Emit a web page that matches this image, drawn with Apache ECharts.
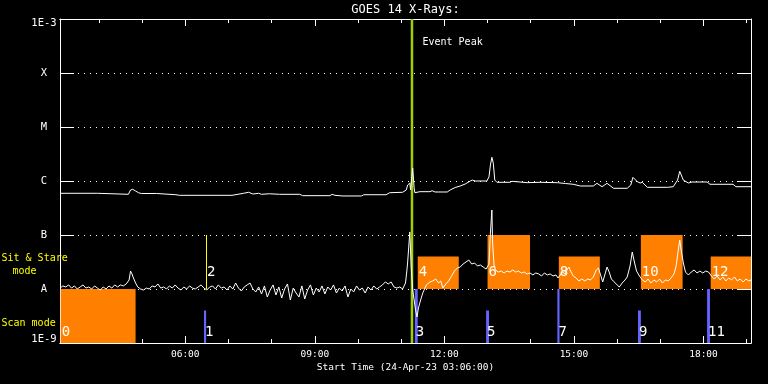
<!DOCTYPE html>
<html><head><meta charset="utf-8">
<script src="https://cdn.jsdelivr.net/npm/echarts@6/dist/echarts.min.js"></script>
<style>html,body{margin:0;background:#000}#c{width:768px;height:384px}</style>
</head><body><div id="c"></div>
<script>
const chartTitle = 'GOES 14 X-Rays:';
const xAxisTitle = 'Start Time (24-Apr-23 03:06:00)';
const startTime = '03:06', endTime = '19:06';
const hourTicks = [4,5,6,7,8,9,10,11,12,13,14,15,16,17,18,19];
const labelHours = [6,9,12,15,18];
const yTickNames = ['1E-9','A','B','C','M','X','1E-3'];
const peakTime = '11:15';
const peakText = 'Event Peak';

// long channel (upper curve)
const longTimes = ['03:06','03:58','03:59','04:41','04:44','04:47','04:51','04:55','04:59','05:20','05:21','05:47','05:49','05:52','07:05','07:21','07:28','07:34','07:42','07:46','07:57','08:11','08:39','08:43','09:21','09:24','09:28','09:39','10:05','10:08','10:39','10:44','11:02','11:07','11:09','11:12','11:13','11:16','11:18','11:19','11:26','11:40','11:43','11:47','12:04','12:08','12:15','12:22','12:29','12:36','12:39','12:43','12:59','13:02','13:04','13:06','13:08','13:10','13:13','13:31','13:34','13:55','14:13','14:37','14:48','14:59','15:09','15:27','15:32','15:39','15:46','15:55','16:14','16:19','16:22','16:28','16:32','16:35','16:42','17:10','17:18','17:24','17:27','17:32','17:39','17:44','18:05','18:09','18:41','18:45','19:06'];
const longFlux = [5.92e-7,5.92e-7,5.67e-7,5.67e-7,6.81e-7,7.02e-7,6.53e-7,6.07e-7,5.87e-7,5.87e-7,5.57e-7,5.57e-7,5.28e-7,5.43e-7,5.43e-7,5.92e-7,6.18e-7,5.74e-7,5.92e-7,5.67e-7,5.80e-7,5.67e-7,5.67e-7,5.35e-7,5.35e-7,5.67e-7,5.43e-7,5.28e-7,5.28e-7,5.57e-7,5.57e-7,6.07e-7,6.18e-7,6.81e-7,8.43e-7,9.18e-7,6.81e-7,1.72e-6,7.42e-7,6.07e-7,6.34e-7,6.34e-7,6.61e-7,6.26e-7,6.26e-7,6.81e-7,7.58e-7,8.08e-7,8.80e-7,1.0e-6,1.04e-6,1.0e-6,1.0e-6,1.19e-6,1.98e-6,2.75e-6,2.13e-6,1.04e-6,9.46e-7,9.46e-7,9.87e-7,9.31e-7,9.46e-7,9.31e-7,8.99e-7,8.69e-7,8.08e-7,8.08e-7,9.06e-7,7.84e-7,9.06e-7,7.33e-7,7.33e-7,8.43e-7,1.17e-6,9.71e-7,9.18e-7,9.46e-7,7.64e-7,7.64e-7,7.84e-7,1.04e-6,1.51e-6,1.04e-6,9.18e-7,9.58e-7,9.58e-7,8.69e-7,8.69e-7,7.84e-7,7.84e-7];

// short channel (lower curve)
const shortTimes = ['03:06','03:10','03:14','03:18','03:22','03:26','03:30','03:34','03:38','03:42','03:46','03:50','03:54','03:58','04:02','04:06','04:10','04:14','04:18','04:22','04:26','04:30','04:34','04:38','04:42','04:44','04:46','04:48','04:51','04:54','04:58','05:02','05:06','05:10','05:14','05:18','05:22','05:26','05:30','05:34','05:38','05:42','05:46','05:50','05:54','05:58','06:02','06:06','06:10','06:14','06:18','06:22','06:26','06:30','06:34','06:38','06:42','06:46','06:50','06:54','06:58','07:02','07:06','07:10','07:14','07:18','07:22','07:26','07:30','07:34','07:38','07:42','07:46','07:50','07:54','07:58','08:02','08:06','08:10','08:14','08:18','08:22','08:26','08:30','08:34','08:38','08:42','08:46','08:50','08:54','08:58','09:02','09:06','09:10','09:14','09:18','09:22','09:26','09:30','09:34','09:38','09:42','09:46','09:50','09:54','09:58','10:02','10:06','10:10','10:14','10:18','10:22','10:26','10:30','10:34','10:38','10:42','10:46','10:50','10:54','10:58','11:02','11:06','11:08','11:09','11:11','11:12','11:13','11:14','11:16','11:18','11:20','11:22','11:24','11:27','11:30','11:35','11:40','11:44','11:48','11:52','11:55','11:58','12:02','12:06','12:10','12:14','12:18','12:22','12:26','12:30','12:34','12:38','12:42','12:46','12:50','12:54','12:58','13:02','13:04','13:06','13:07','13:09','13:11','13:15','13:19','13:23','13:27','13:31','13:35','13:39','13:43','13:47','13:51','13:55','13:59','14:03','14:07','14:11','14:15','14:19','14:23','14:27','14:31','14:35','14:38','14:41','14:44','14:48','14:51','14:53','14:56','14:59','15:03','15:07','15:11','15:15','15:19','15:23','15:27','15:31','15:34','15:37','15:40','15:44','15:46','15:49','15:52','15:56','16:00','16:03','16:07','16:11','16:14','16:18','16:21','16:22','16:24','16:27','16:31','16:35','16:39','16:43','16:47','16:51','16:55','16:59','17:03','17:07','17:11','17:15','17:19','17:22','17:25','17:27','17:29','17:32','17:35','17:39','17:43','17:47','17:51','17:55','17:59','18:03','18:07','18:11','18:15','18:19','18:23','18:27','18:31','18:35','18:39','18:43','18:47','18:51','18:55','18:59','19:03','19:06'];
const shortFlux = [1.04e-8,1.14e-8,1.09e-8,1.19e-8,1.04e-8,1.14e-8,1.0e-8,1.09e-8,1.19e-8,1.04e-8,1.09e-8,1.0e-8,1.14e-8,1.04e-8,9.58e-9,1.09e-8,1.0e-8,1.14e-8,1.04e-8,1.19e-8,1.09e-8,1.19e-8,1.14e-8,1.24e-8,1.47e-8,2.15e-8,1.90e-8,1.60e-8,1.29e-8,1.09e-8,1.0e-8,9.58e-9,1.04e-8,1.0e-8,1.14e-8,1.09e-8,1.24e-8,1.04e-8,1.09e-8,1.0e-8,1.14e-8,1.04e-8,1.19e-8,1.04e-8,9.58e-9,1.09e-8,1.0e-8,1.14e-8,1.04e-8,1.0e-8,1.09e-8,1.19e-8,1.04e-8,9.58e-9,1.09e-8,1.14e-8,1.0e-8,1.19e-8,1.04e-8,1.09e-8,9.58e-9,1.14e-8,1.0e-8,1.29e-8,1.04e-8,9.18e-9,1.09e-8,1.19e-8,1.29e-8,1.0e-8,8.80e-9,1.09e-8,8.08e-9,1.14e-8,7.11e-9,9.58e-9,1.19e-8,7.74e-9,1.09e-8,6.81e-9,1.0e-8,1.24e-8,6.26e-9,1.04e-8,8.43e-9,7.11e-9,1.14e-8,6.53e-9,9.58e-9,1.19e-8,7.74e-9,1.04e-8,8.80e-9,1.14e-8,8.08e-9,1.09e-8,9.58e-9,1.19e-8,8.43e-9,1.04e-8,9.18e-9,1.14e-8,7.11e-9,1.0e-8,8.80e-9,1.14e-8,9.58e-9,1.04e-8,8.43e-9,1.09e-8,9.58e-9,1.14e-8,1.0e-8,1.09e-8,1.19e-8,1.35e-8,1.24e-8,1.35e-8,1.09e-8,1.04e-8,1.09e-8,1.0e-8,1.29e-8,2.25e-8,3.16e-8,3.03e-8,1.14e-7,5.27e-8,2.45e-8,9.58e-9,6.26e-9,4.08e-9,3.03e-9,4.45e-9,6.26e-9,8.43e-9,1.19e-8,1.35e-8,1.41e-8,1.53e-8,1.29e-8,1.41e-8,1.04e-8,1.24e-8,1.41e-8,1.74e-8,2.15e-8,2.45e-8,2.55e-8,2.90e-8,3.16e-8,3.44e-8,2.90e-8,3.03e-8,2.67e-8,2.78e-8,2.55e-8,2.34e-8,2.90e-8,1.09e-7,2.90e-7,7.11e-8,2.78e-8,2.25e-8,2.06e-8,2.15e-8,1.98e-8,2.15e-8,2.06e-8,2.25e-8,2.06e-8,2.15e-8,1.98e-8,2.06e-8,1.90e-8,1.98e-8,1.82e-8,1.98e-8,1.90e-8,1.74e-8,1.98e-8,1.82e-8,1.90e-8,1.74e-8,1.82e-8,1.60e-8,1.82e-8,2.06e-8,1.90e-8,2.34e-8,2.55e-8,2.06e-8,1.74e-8,1.60e-8,1.41e-8,1.53e-8,1.41e-8,1.53e-8,1.47e-8,1.67e-8,2.25e-8,2.45e-8,1.82e-8,1.35e-8,2.06e-8,2.55e-8,2.06e-8,1.53e-8,1.35e-8,1.19e-8,1.09e-8,1.29e-8,1.47e-8,1.67e-8,2.67e-8,4.84e-8,5.27e-8,3.16e-8,2.15e-8,1.74e-8,1.47e-8,1.35e-8,1.53e-8,1.29e-8,1.47e-8,1.35e-8,1.53e-8,1.29e-8,1.47e-8,1.41e-8,1.60e-8,1.90e-8,2.67e-8,5.27e-8,8.07e-8,5.27e-8,3.03e-8,2.06e-8,1.82e-8,2.06e-8,2.25e-8,1.98e-8,2.15e-8,1.98e-8,2.15e-8,2.06e-8,1.74e-8,1.53e-8,1.74e-8,1.47e-8,1.67e-8,1.41e-8,1.60e-8,1.47e-8,1.67e-8,1.41e-8,1.53e-8,1.35e-8,1.53e-8,1.41e-8,1.47e-8];

// observing-mode segments: [start, end, top level, label]
const scanLong  = [['03:07','04:51',1e-8,'0']];
const scanShort = [['06:26','06:29',4e-9,'1'],['11:19','11:23',1e-8,'3'],['12:58','13:02',4e-9,'5'],['14:37','14:40',1e-8,'7'],['16:29','16:33',4e-9,'9'],['18:05','18:09',1e-8,'11']];
const sitBlocks = [['11:23','12:20',4e-8,'4'],['13:00','13:59',1e-7,'6'],['14:39','15:36',4e-8,'8'],['16:33','17:31',1e-7,'10'],['18:10','19:06',4e-8,'12']];
const sitLines  = [['06:29','06:29',1e-7,'2']];

const H = s => { const [h, m] = s.split(':').map(Number); return h + m / 60; };
const pairs = (t, f) => t.map((s, i) => [H(s), f[i]]);
const xMin = H(startTime), xMax = H(endTime);
const scanBase = 1e-9, sitBase = 1e-8, scanLabelLevel = 1.55e-9, sitLabelLevel = 2.04e-8, peakLabelLevel = 3.67e-4;
const MONO = '"DejaVu Sans Mono", "Liberation Mono", monospace';

function blocks(segs, base, labelLevel, color, asLine) {
  return {
    type: 'custom', silent: true, clip: true, z: 2,
    data: segs.map(s => [H(s[0]), H(s[1]), base, s[2]]),
    encode: { x: [0, 1], y: [2, 3] },
    renderItem(params, api) {
      const seg = segs[params.dataIndex];
      const a = api.coord([api.value(0), api.value(2)]);
      const b = api.coord([api.value(1), api.value(3)]);
      const l = api.coord([api.value(0), labelLevel]);
      const mark = asLine
        ? { type: 'line', shape: { x1: Math.round(a[0]) + 0.5, y1: a[1], x2: Math.round(a[0]) + 0.5, y2: b[1] }, style: { stroke: color, lineWidth: 1 } }
        : { type: 'rect', shape: { x: a[0], y: b[1], width: Math.max(b[0] - a[0], 1), height: a[1] - b[1] }, style: { fill: color } };
      return { type: 'group', children: [mark, {
        type: 'text', x: l[0] + 1, y: l[1], z2: 10,
        style: { text: seg[3], fill: '#fff', font: '14px ' + MONO, align: 'left', verticalAlign: 'middle', textAlign: 'left', textVerticalAlign: 'middle' }
      }] };
    }
  };
}

const xBase = { type: 'value', min: xMin, max: xMax, gridIndex: 0, splitLine: { show: false },
  axisLine: { show: true, lineStyle: { color: '#fff', width: 1 } } };
const minorX = pos => Object.assign({}, xBase, { position: pos,
  axisTick: { show: true, inside: true, length: 4, customValues: hourTicks, lineStyle: { color: '#fff' } },
  axisLabel: { show: false } });
const majorX = (pos, labels) => Object.assign({}, xBase, { position: pos,
  axisTick: { show: true, inside: true, length: 7, customValues: labelHours, lineStyle: { color: '#fff' } },
  axisLabel: labels ? { show: true, customValues: labelHours, margin: 7, color: '#fff', fontFamily: MONO, fontSize: 9.5,
    formatter: v => String(Math.round(v)).padStart(2, '0') + ':00' } : { show: false } });

const yLabelFmt = v => {
  const e = Math.round(Math.log10(v));
  const t = yTickNames[e + 9];
  if (e === -3) return '{t|' + t + '}';
  if (e === -9) return '{b|' + t + '}';
  return t;
};
const lblStyle = { color: '#fff', fontFamily: MONO, fontSize: 10.5 };

const option = {
  backgroundColor: '#000',
  animation: false,
  grid: { left: 60, top: 19, width: 691, height: 324, containLabel: false },
  xAxis: [minorX('bottom'), majorX('bottom', true), minorX('top'), majorX('top', false)],
  yAxis: [
    { type: 'log', logBase: 10, min: 1e-9, max: 1e-3, position: 'left',
      axisLine: { show: true, lineStyle: { color: '#fff' } },
      axisTick: { show: true, inside: true, length: 14, lineStyle: { color: '#fff' } },
      minorTick: { show: false },
      splitLine: { show: true, lineStyle: { color: '#fff', width: 1, type: [1, 5] } },
      axisLabel: Object.assign({ show: true, margin: 16, align: 'center', showMinLabel: true, showMaxLabel: true, formatter: yLabelFmt,
        rich: { t: Object.assign({ padding: [9, 0, 0, 0] }, lblStyle), b: Object.assign({ padding: [0, 0, 7, 0] }, lblStyle) } }, lblStyle) },
    { type: 'log', logBase: 10, min: 1e-9, max: 1e-3, position: 'right',
      axisLine: { show: true, lineStyle: { color: '#fff' } },
      axisTick: { show: true, inside: true, length: 14, lineStyle: { color: '#fff' } },
      splitLine: { show: false }, axisLabel: { show: false } }
  ],
  graphic: [
    { type: 'text', x: 405.5, y: 9.5, style: { text: chartTitle, fill: '#fff', font: '12px ' + MONO, align: 'center', verticalAlign: 'middle' } },
    { type: 'text', x: 405.5, y: 368, style: { text: xAxisTitle, fill: '#fff', font: '9.5px ' + MONO, align: 'center', verticalAlign: 'middle' } },
    { type: 'text', x: 1.5, y: 258.5, style: { text: 'Sit & Stare', fill: '#ffff00', font: '10px ' + MONO, align: 'left', verticalAlign: 'middle' } },
    { type: 'text', x: 12.5, y: 271, style: { text: 'mode', fill: '#ffff00', font: '10px ' + MONO, align: 'left', verticalAlign: 'middle' } },
    { type: 'text', x: 1.5, y: 323.5, style: { text: 'Scan mode', fill: '#ffff00', font: '10px ' + MONO, align: 'left', verticalAlign: 'middle' } }
  ],
  series: [
    blocks(scanLong, scanBase, scanLabelLevel, '#ff8000', false),
    blocks(scanShort, scanBase, scanLabelLevel, '#6464ff', false),
    blocks(sitBlocks, sitBase, sitLabelLevel, '#ff8000', false),
    blocks(sitLines, sitBase, sitLabelLevel, '#ffff00', true),
    { type: 'line', silent: true, z: 3, symbol: 'none', data: [[H(peakTime), 1e-9], [H(peakTime), 1e-3]],
      lineStyle: { color: '#a0d000', width: 2.5 } },
    { type: 'custom', silent: true, z: 4, clip: false, data: [[H(peakTime), peakLabelLevel]],
      renderItem(params, api) {
        const p = api.coord([api.value(0), api.value(1)]);
        return { type: 'text', x: p[0] + 10.5, y: p[1],
          style: { text: peakText, fill: '#fff', font: '10px ' + MONO, align: 'left', verticalAlign: 'middle', textAlign: 'left', textVerticalAlign: 'middle' } };
      } },
    { type: 'line', silent: true, z: 5, symbol: 'none', showSymbol: false, sampling: null, data: pairs(longTimes, longFlux),
      lineStyle: { color: '#fff', width: 1 } },
    { type: 'line', silent: true, z: 5, symbol: 'none', showSymbol: false, sampling: null, data: pairs(shortTimes, shortFlux),
      lineStyle: { color: '#fff', width: 1 } }
  ]
};
const chart = echarts.init(document.getElementById('c'));
chart.setOption(option);
</script></body></html>
